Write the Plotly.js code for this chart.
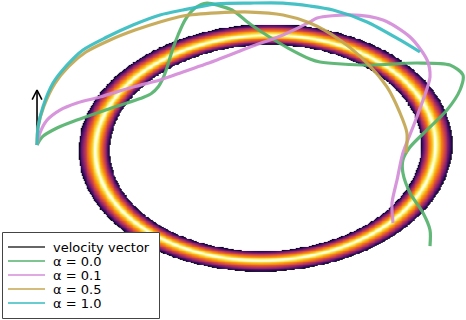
<!DOCTYPE html>
<html>
<head>
<meta charset="utf-8">
<script src="https://cdn.plot.ly/plotly-3.0.1.min.js"></script>
<style>
  body { margin: 0; background: #fff; }
  #plot { width: 466px; height: 320px; }
</style>
</head>
<body>
<div id="plot"></div>
<script>
//
// Trajectories launched from one point, drawn over a ring-shaped
// potential. Units: ring centre at origin, ring radius ~ 1.
//

const alphaLabels = ['α = 0.0', 'α = 0.1', 'α = 0.5', 'α = 1.0'];
const lineColors = ['#55b26c', '#d48cd8', '#c4a650', '#36bcc0'];

// alpha = 0.0
const xA0 = [-1.314, -1.285, -1.199, -1.084, -0.951, -0.795, -0.703, -0.655,
             -0.615, -0.585, -0.560, -0.534, -0.501, -0.461, -0.403, -0.334,
             -0.259, -0.190, -0.086, 0.017, 0.133, 0.259, 0.317, 0.588,
             0.876, 1.066, 1.141, 1.124, 1.049, 0.934, 0.836, 0.795,
             0.795, 0.836, 0.911, 0.951, 0.951];
const yA0 = [0.022, 0.093, 0.173, 0.244, 0.316, 0.396, 0.445, 0.480,
             0.540, 0.625, 0.733, 0.867, 1.000, 1.133, 1.240, 1.284,
             1.258, 1.222, 1.098, 0.991, 0.884, 0.787, 0.760, 0.733,
             0.751, 0.733, 0.644, 0.511, 0.333, 0.156, 0.004, -0.111,
             -0.227, -0.404, -0.582, -0.733, -0.876];

// alpha = 0.1
const xA1 = [-1.314, -1.297, -1.256, -1.182, -1.084, -0.951, -0.761, -0.605,
             -0.473, -0.277, -0.086, 0.104, 0.259, 0.300, 0.490, 0.680,
             0.836, 0.934, 0.951, 0.911, 0.853, 0.795, 0.761, 0.732, 0.738];
const yA1 = [0.022, 0.129, 0.244, 0.333, 0.396, 0.449, 0.538, 0.600,
             0.671, 0.778, 0.893, 1.000, 1.116, 1.151, 1.178, 1.133,
             0.982, 0.778, 0.627, 0.422, 0.182, -0.049, -0.289, -0.493, -0.671];

// alpha = 0.5
const xA5 = [-1.314, -1.308, -1.274, -1.210, -1.130, -1.032, -0.893, -0.749,
             -0.605, -0.473, -0.277, -0.086, 0.104, 0.259, 0.432, 0.588,
             0.703, 0.778, 0.818, 0.813];
const yA5 = [0.022, 0.182, 0.369, 0.573, 0.724, 0.849, 0.956, 1.044,
             1.116, 1.169, 1.196, 1.204, 1.178, 1.107, 0.956, 0.751,
             0.538, 0.307, 0.129, -0.049];

// alpha = 1.0
const xA10 = [-1.314, -1.308, -1.280, -1.222, -1.141, -1.049, -0.911, -0.761,
              -0.605, -0.473, -0.277, -0.086, 0.104, 0.259, 0.392, 0.588,
              0.778, 0.893];
const yA10 = [0.022, 0.182, 0.360, 0.573, 0.733, 0.867, 0.982, 1.089,
              1.178, 1.222, 1.276, 1.284, 1.284, 1.258, 1.222, 1.116,
              0.956, 0.849];

// initial velocity vector
const velX = [-1.314, -1.314];
const velY = [0.022, 0.511];

// ring: centreline radii, half widths outside / inside, tilt (rad)
const ringRx = 0.98, ringRy = 1.0;
const ringOuter = 0.1, ringInner = 0.085;
const ringTilt = 0.03;
const aspect = 173.5 / 112.5;   // screen size of x unit over y unit

const xRange = [-1.5274, 1.1585];
const yRange = [-1.5333, 1.3111];

const inferno = ['#000004', '#160b39', '#420a68', '#6a176e', '#932667',
                 '#bc3754', '#dd513a', '#f37819', '#fca50a', '#f6d746',
                 '#fcffa4'];

function ringField() {
    const xs = [], ys = [], z = [];
    for (let x = -1.25; x <= 1.16; x += 0.005) { xs.push(x); }
    for (let y = -1.3; y <= 1.26; y += 0.007) { ys.push(y); }
    const c = Math.cos(ringTilt), s = Math.sin(ringTilt);
    ys.forEach((y) => {
        const row = [];
        xs.forEach((x) => {
            const dx = x * aspect;
            const u = dx * c + y * s;
            const v = -dx * s + y * c;
            const r = Math.sqrt(Math.pow(u / (ringRx * aspect), 2) +
                                Math.pow(v / ringRy, 2));
            const d = r - 1;
            let val = d >= 0 ? 1 - d / ringOuter : 1 + d / ringInner;
            // outside the ring keep a shallow negative slope so the
            // interpolated edge lands in the right place
            val = val < 0 ? Math.max(val, -1) : Math.pow(val, 0.8);
            row.push(val);
        });
        z.push(row);
    });
    return {x: xs, y: ys, z: z};
}

function ringColorscale() {
    const cs = [[0, '#ffffff'], [0.499, '#ffffff']];
    inferno.forEach((col, i) => {
        cs.push([0.5 + 0.47 * i / (inferno.length - 1), col]);
    });
    cs.push([1, '#ffffff']);
    return cs;
}

const field = ringField();
const data = [];

data.push({type: 'heatmap', x: field.x, y: field.y, z: field.z,
           zmin: -1, zmax: 1, zsmooth: 'best',
           colorscale: ringColorscale(), showscale: false,
           hoverinfo: 'skip'});

// velocity arrow: shaft plus an open head
const headHalf = 0.028, headLen = 0.085;
const tipX = velX[1], tipY = velY[1];
data.push({type: 'scatter', mode: 'lines', x: velX, y: velY,
           line: {color: '#000000', width: 1.6}, hoverinfo: 'skip'});
data.push({type: 'scatter', mode: 'lines',
           x: [tipX - headHalf, tipX, tipX + headHalf],
           y: [tipY - headLen, tipY, tipY - headLen],
           line: {color: '#000000', width: 1.6}, hoverinfo: 'skip'});

const tracks = [[xA0, yA0], [xA1, yA1], [xA5, yA5], [xA10, yA10]];
tracks.forEach((t, i) => {
    data.push({type: 'scatter', mode: 'lines', x: t[0], y: t[1],
               name: alphaLabels[i], opacity: 0.92,
               line: {color: lineColors[i], width: 3.2,
                      shape: 'spline', smoothing: 0.8},
               hoverinfo: 'skip'});
});

// hand-built legend (plotly legend rows are too tall)
const W = 466, H = 320;
const px = (v) => v / W;
const py = (v) => 1 - v / H;
const legendRows = [247, 261, 275, 289, 303];
const legendLabels = ['velocity vector'].concat(alphaLabels);
const legendColors = ['#333333'].concat(lineColors);

const shapes = [{type: 'rect', xref: 'paper', yref: 'paper',
                 x0: px(2.5), x1: px(159.5), y0: py(318.5), y1: py(232.5),
                 line: {color: '#444444', width: 1}, fillcolor: '#ffffff'}];
const annotations = [];
legendRows.forEach((r, i) => {
    shapes.push({type: 'line', xref: 'paper', yref: 'paper',
                 x0: px(8), x1: px(45), y0: py(r), y1: py(r),
                 line: {color: legendColors[i], width: 1.5}});
    annotations.push({xref: 'paper', yref: 'paper', x: px(51), y: py(r),
                      xanchor: 'left', yanchor: 'middle', showarrow: false,
                      text: legendLabels[i],
                      font: {family: 'DejaVu Sans', size: 13, color: '#000'}});
});

const layout = {width: W, height: H,
                margin: {l: 0, r: 0, t: 0, b: 0},
                paper_bgcolor: '#ffffff', plot_bgcolor: '#ffffff',
                showlegend: false,
                xaxis: {range: xRange, visible: false, fixedrange: true},
                yaxis: {range: yRange, visible: false, fixedrange: true},
                shapes: shapes, annotations: annotations};

Plotly.newPlot('plot', data, layout, {displayModeBar: false, staticPlot: true});
</script>
</body>
</html>
